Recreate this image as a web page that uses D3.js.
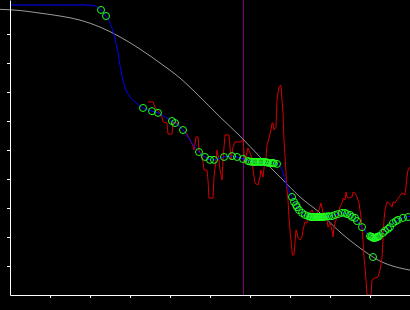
<!DOCTYPE html>
<html><head><meta charset="utf-8">
<script src="https://cdn.jsdelivr.net/npm/d3@7"></script>
<style>html,body{margin:0;padding:0;background:#000;overflow:hidden}svg{display:block}</style>
</head><body>
<script>
// reference (gray) curve
const grayX = [-0.25,0.25,0.75,1.25,1.75,2.25,2.75,3.25,3.75,4.25,4.75,5.25,5.75,6.25,6.75,7.25,7.75,8.25,8.75,9.25,9.75,10];
const grayY = [9.85,9.81,9.72,9.62,9.48,9.24,8.90,8.48,8.0,7.48,6.83,6.14,5.48,4.76,4.07,3.38,2.83,2.17,1.62,1.17,0.93,0.86];
// smooth fit (blue)
const fitX = [0,1.95,2.125,2.25,2.375,2.5,2.575,2.65,2.7,2.75,2.825,2.9,3.0,3.125,3.325,3.55,3.7,3.875,4.05,4.125,4.325,4.5,4.725,4.875,5.0,5.1,5.35,5.55,5.675,5.825,6.125,6.5,6.675,6.8,6.875,6.95,7.05,7.15,7.3,7.45,7.75,8.05,8.3,8.5,8.675,8.8,9.0,9.125,9.225,9.375,9.575,9.75,10];
const fitY = [10.0,10.0,9.97,9.86,9.66,9.38,9.10,8.69,8.34,7.93,7.41,7.07,6.83,6.66,6.45,6.34,6.28,6.14,6.0,5.93,5.69,5.34,4.93,4.76,4.66,4.66,4.76,4.79,4.76,4.69,4.59,4.55,4.52,4.31,3.97,3.69,3.38,3.10,2.83,2.72,2.69,2.72,2.83,2.76,2.55,2.34,2.03,1.97,2.03,2.21,2.48,2.62,2.72];
// noisy signal (red)
const sigX = [3.45,3.575,3.625,3.725,3.8,3.825,3.925,3.95,4.05,4.075,4.175,4.25,4.325,4.425,4.5,4.575,4.6,4.65,4.7,4.725,4.8,4.825,4.85,4.925,4.95,4.975,5.075,5.1,5.15,5.175,5.225,5.25,5.3,5.325,5.375,5.475,5.525,5.55,5.575,5.625,5.75,5.825,5.85,5.875,5.925,5.95,6.05,6.075,6.125,6.2,6.25,6.275,6.325,6.35,6.4,6.425,6.475,6.525,6.55,6.575,6.6,6.65,6.675,6.7,6.725,6.775,6.8,6.825,6.85,6.875,6.9,6.925,6.95,6.975,7.0,7.04,7.06,7.1,7.15,7.175,7.2,7.25,7.3,7.325,7.375,7.425,7.45,7.5,7.55,7.575,7.625,7.675,7.725,7.775,7.825,7.85,7.925,7.95,8.0,8.05,8.075,8.1,8.15,8.2,8.25,8.3,8.325,8.375,8.4,8.425,8.475,8.55,8.575,8.625,8.675,8.7,8.725,8.75,8.775,8.8,8.825,8.85,8.875,8.9,8.925,9.025,9.05,9.125,9.2,9.25,9.3,9.325,9.35,9.375,9.425,9.475,9.55,9.575,9.625,9.675,9.725,9.8,9.875,9.925,9.95,10.0];
const sigY = [6.66,6.66,6.48,6.31,6.14,5.97,5.93,5.55,5.55,5.97,5.93,5.79,5.69,5.55,5.34,5.14,5.0,5.45,5.45,5.0,4.76,4.59,4.31,4.31,3.97,3.34,3.34,4.07,4.66,5.0,4.66,4.31,3.97,4.66,5.52,5.52,4.66,4.9,5.10,5.28,5.28,5.34,4.93,4.55,4.93,5.07,4.72,4.31,3.86,3.79,4.07,4.31,4.07,4.38,4.76,5.17,5.41,5.69,5.93,5.93,5.69,5.79,6.72,6.97,7.17,7.24,6.72,6.28,5.34,4.76,4.21,3.62,3.28,2.66,2.24,1.66,1.38,1.38,2.24,2.14,1.97,1.90,2.0,2.24,2.52,2.48,2.76,2.83,2.93,2.86,2.69,2.83,2.93,3.17,2.83,2.69,2.59,2.34,2.48,2.24,2.0,2.34,2.59,2.83,3.03,3.17,3.34,3.28,3.55,3.38,3.34,3.38,3.55,3.52,3.38,3.28,3.17,2.93,2.69,2.34,1.90,1.31,0.97,0.52,0,0,0.52,0.59,0.62,0.86,1.28,1.90,2.59,2.93,3.21,3.17,3.03,3.21,3.17,3.28,3.38,3.52,3.45,4.07,4.31,4.41];
// sampled points (green)
const ptX = [2.275,2.4,3.325,3.55,3.7,4.05,4.125,4.325,4.725,4.875,5.0,5.1,5.35,5.55,5.675,5.825,5.95,6.0,6.05,6.1,6.125,6.15,6.2,6.25,6.275,6.3,6.35,6.4,6.425,6.45,6.5,6.55,6.575,6.6,6.675,7.05,7.1,7.15,7.175,7.225,7.3,7.375,7.45,7.5,7.525,7.55,7.575,7.6,7.625,7.65,7.675,7.7,7.725,7.75,7.775,7.8,7.825,7.85,7.875,7.925,7.975,8.05,8.125,8.2,8.3,8.375,8.425,8.5,8.55,8.625,8.675,8.8,9.0,9.03,9.05,9.075,9.1,9.125,9.15,9.175,9.2,9.225,9.325,9.375,9.45,9.5,9.575,9.65,9.7,9.825,9.95,9.075];
const ptY = [9.83,9.62,6.45,6.34,6.28,6.0,5.93,5.69,4.93,4.76,4.66,4.66,4.76,4.79,4.76,4.69,4.62,4.60,4.59,4.59,4.59,4.59,4.59,4.59,4.59,4.59,4.59,4.58,4.57,4.56,4.55,4.55,4.55,4.54,4.52,3.38,3.21,3.10,3.03,2.93,2.83,2.76,2.72,2.70,2.69,2.69,2.69,2.69,2.69,2.69,2.69,2.69,2.69,2.69,2.69,2.69,2.69,2.70,2.70,2.71,2.72,2.72,2.76,2.79,2.83,2.83,2.79,2.76,2.69,2.66,2.55,2.34,2.03,2.01,2.0,1.97,1.97,1.97,1.98,2.0,2.01,2.03,2.14,2.21,2.28,2.34,2.48,2.55,2.59,2.66,2.69,1.31];
const markerX = 5.825;
const xTicks = [1,2,3,4,5,6,7,8,9];
const yTicks = [1,2,3,4,5,6,7,8,9];

const W = 410, H = 310;
const svg = d3.select("body").append("svg").attr("width", W).attr("height", H)
  .style("background", "#000");
const x = d3.scaleLinear().domain([0, 10]).range([10, 410]);
const y = d3.scaleLinear().domain([0, 295/29]).range([295, 0]);

const zip = (a, b) => a.map((v, i) => [v, b[i]]);

// purple marker
const mx = Math.round(x(markerX)) + 0.5;
svg.append("line").attr("x1", mx).attr("x2", mx).attr("y1", y.range()[1]).attr("y2", y(0))
  .attr("stroke", "#800080").attr("stroke-width", 1);

svg.append("path").datum(zip(grayX, grayY))
  .attr("d", d3.line().x(d => x(d[0])).y(d => y(d[1])).curve(d3.curveMonotoneX)).attr("fill", "none")
  .attr("stroke", "#9a9a9a").attr("stroke-width", 1);

svg.append("path").datum(zip(sigX, sigY))
  .attr("d", d3.line().x(d => x(d[0])).y(d => y(d[1]))).attr("fill", "none")
  .attr("stroke", "#d40000").attr("stroke-width", 1);

svg.append("path").datum(zip(fitX, fitY))
  .attr("d", d3.line().x(d => x(d[0])).y(d => y(d[1])).curve(d3.curveMonotoneX)).attr("fill", "none")
  .attr("stroke", "#0000ff").attr("stroke-width", 1);

svg.append("g").selectAll("circle").data(zip(ptX, ptY)).join("circle")
  .attr("cx", d => x(d[0])).attr("cy", d => y(d[1])).attr("r", 3.5)
  .attr("fill", "none").attr("stroke", "#22ff22").attr("stroke-width", 1);

// axes
svg.append("g").attr("transform", "translate(0,295)")
  .call(d3.axisBottom(x).tickValues(xTicks).tickSize(3).tickSizeOuter(0).tickFormat(""));
svg.append("g").attr("transform", "translate(10,0)")
  .call(d3.axisLeft(y).tickValues(yTicks).tickSize(3).tickSizeOuter(0).tickFormat(""));
svg.selectAll(".domain, .tick line").attr("stroke", "#fff").attr("stroke-width", 1);
</script>
</body></html>
